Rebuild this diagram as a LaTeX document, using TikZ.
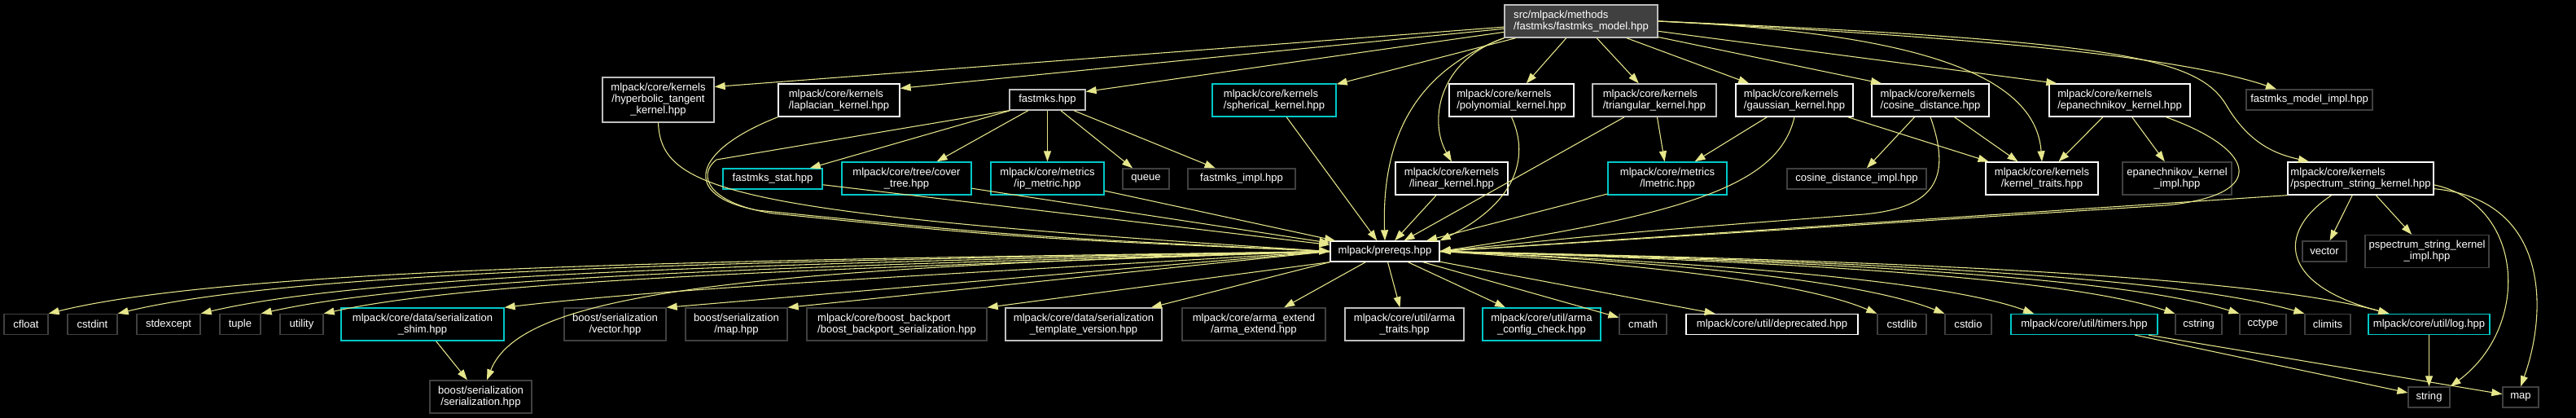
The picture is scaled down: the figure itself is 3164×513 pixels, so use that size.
\documentclass[tikz,border=0pt]{standalone}
\usepackage{fontspec}
\setmainfont{Liberation Sans}
\usetikzlibrary{arrows.meta}

\definecolor{edgecol}{RGB}{230,230,140}
\definecolor{linkcyan}{RGB}{0,200,200}
\definecolor{extgray}{RGB}{64,64,64}
\definecolor{docgray}{RGB}{190,190,190}
\definecolor{rootfill}{RGB}{64,64,64}

\begin{document}
\begin{tikzpicture}[
    x=0.75pt, y=-0.75pt,
    box/.style={rectangle, draw, line width=1pt, fill=black, text=white, inner xsep=1pt, inner ysep=0pt, minimum height=18.75pt, align=center, font=\fontsize{9.8}{10.5}\selectfont},
    docbox/.style={box, draw=white},
    greybox/.style={box, draw=docgray},
    linkbox/.style={box, draw=linkcyan},
    extbox/.style={box, draw=extgray},
    rootbox/.style={box, draw=docgray, fill=rootfill},
    twoline/.style={minimum height=30pt},
    threeline/.style={minimum height=41.25pt},
    boxw/.style={minimum width=#1*0.75pt},
    arrow/.style={-{Triangle[length=9.75pt,width=6.75pt]}, draw=edgecol, line width=0.8pt}
]
\useasboundingbox (0,0) rectangle (3164,513);
\fill[black] (0,0) rectangle (3164,513);

% Row 1: the file itself
\node[rootbox, twoline, boxw=188, align=left] (fmodel) at (1942,26) {src/mlpack/methods\\/fastmks/fastmks\_model.hpp};

% Row 2: direct includes
\node[greybox, threeline, boxw=137] (hyptan) at (808.5,122.5) {mlpack/core/kernels\\/hyperbolic\_tangent\\\_kernel.hpp};
\node[docbox, twoline, boxw=149, align=left] (laplace) at (1030.5,123) {mlpack/core/kernels\\/laplacian\_kernel.hpp};
\node[greybox, boxw=93] (fastmks) at (1286.5,122.5) {fastmks.hpp};
\node[linkbox, twoline, boxw=152, align=left] (spherical) at (1565,123) {mlpack/core/kernels\\/spherical\_kernel.hpp};
\node[docbox, twoline, boxw=153, align=left] (polynom) at (1856.5,123) {mlpack/core/kernels\\/polynomial\_kernel.hpp};
\node[greybox, twoline, boxw=152, align=left] (triang) at (2032,123) {mlpack/core/kernels\\/triangular\_kernel.hpp};
\node[docbox, twoline, boxw=144, align=left] (gauss) at (2204,123) {mlpack/core/kernels\\/gaussian\_kernel.hpp};
\node[docbox, twoline, boxw=144, align=left] (cosdist) at (2371,123) {mlpack/core/kernels\\/cosine\_distance.hpp};
\node[docbox, twoline, boxw=173, align=left] (epan) at (2603.5,123) {mlpack/core/kernels\\/epanechnikov\_kernel.hpp};
\node[extbox, boxw=155] (modelimpl) at (2836.5,122.5) {fastmks\_model\_impl.hpp};

% Row 3
\node[linkbox, boxw=122] (fstat) at (949,219.5) {fastmks\_stat.hpp};
\node[linkbox, twoline, boxw=159] (covtree) at (1113.5,219) {mlpack/core/tree/cover\\\_tree.hpp};
\node[linkbox, twoline, boxw=139] (ipmetric) at (1286.5,219) {mlpack/core/metrics\\/ip\_metric.hpp};
\node[extbox, boxw=57] (queue) at (1407.5,219.5) {queue};
\node[extbox, boxw=132] (fimpl) at (1525,219.5) {fastmks\_impl.hpp};
\node[docbox, twoline, boxw=138] (linear) at (1783,219) {mlpack/core/kernels\\/linear\_kernel.hpp};
\node[linkbox, twoline, boxw=146] (lmetric) at (2048,219) {mlpack/core/metrics\\/lmetric.hpp};
\node[extbox, boxw=171] (cosimpl) at (2280.5,219.5) {cosine\_distance\_impl.hpp};
\node[docbox, twoline, boxw=138] (ktraits) at (2508,219) {mlpack/core/kernels\\/kernel\_traits.hpp};
\node[extbox, twoline, boxw=134] (epanimpl) at (2674,219) {epanechnikov\_kernel\\\_impl.hpp};
\node[docbox, twoline, boxw=179, align=left] (pspec) at (2899.5,219) {mlpack/core/kernels\\/pspectrum\_string\_kernel.hpp};

% Row 4
\node[docbox, boxw=134] (prereqs) at (1701,308.5) {mlpack/prereqs.hpp};
\node[extbox, boxw=54] (vectorh) at (2855,308.5) {vector};
\node[extbox, twoline, boxw=152] (pspecimpl) at (2981,308.5) {pspectrum\_string\_kernel\\\_impl.hpp};

% Row 5
\node[extbox, boxw=54] (cfloat) at (32,398) {cfloat};
\node[extbox, boxw=61] (cstdint) at (113.5,398) {cstdint};
\node[extbox, boxw=78] (stdexcept) at (207,398) {stdexcept};
\node[extbox, boxw=50] (tuple) at (295,398) {tuple};
\node[extbox, boxw=53] (utility) at (370.5,398) {utility};
\node[linkbox, twoline, boxw=200] (sershim) at (519,398) {mlpack/core/data/serialization\\\_shim.hpp};
\node[extbox, twoline, boxw=125] (bvector) at (755.5,398) {boost/serialization\\/vector.hpp};
\node[extbox, twoline, boxw=125] (bmap) at (904.5,398) {boost/serialization\\/map.hpp};
\node[extbox, twoline, boxw=221, align=left] (backport) at (1101.5,398) {mlpack/core/boost\_backport\\/boost\_backport\_serialization.hpp};
\node[greybox, twoline, boxw=192] (sertmpl) at (1331,398) {mlpack/core/data/serialization\\\_template\_version.hpp};
\node[extbox, twoline, boxw=176] (armaext) at (1540,398) {mlpack/core/arma\_extend\\/arma\_extend.hpp};
\node[greybox, twoline, boxw=146] (armatraits) at (1725,398) {mlpack/core/util/arma\\\_traits.hpp};
\node[linkbox, twoline, boxw=145] (armacfg) at (1893.5,398) {mlpack/core/util/arma\\\_config\_check.hpp};
\node[extbox, boxw=58] (cmath) at (2018,398) {cmath};
\node[docbox, boxw=211] (deprec) at (2176.5,398) {mlpack/core/util/deprecated.hpp};
\node[extbox, boxw=60] (cstdlib) at (2336,398) {cstdlib};
\node[extbox, boxw=57] (cstdio) at (2417.5,398) {cstdio};
\node[linkbox, boxw=180] (timers) at (2560,398) {mlpack/core/util/timers.hpp};
\node[extbox, boxw=57] (cstring) at (2700.5,398) {cstring};
\node[extbox, boxw=57] (cctype) at (2779.5,398) {cctype};
\node[extbox, boxw=56] (climits) at (2859,398) {climits};
\node[linkbox, boxw=149] (logh) at (2983.5,398) {mlpack/core/util/log.hpp};

% Row 6
\node[extbox, twoline, boxw=125] (bser) at (590.5,487) {boost/serialization\\/serialization.hpp};
\node[extbox, boxw=51] (stringh) at (2983.5,487.5) {string};
\node[extbox, boxw=44] (maph) at (3096,487.5) {map};

% Arrows from the file itself
\draw[arrow] (fmodel) -- (hyptan.13);
\draw[arrow] (fmodel) -- (laplace.11);
\draw[arrow] (fmodel) -- (fastmks.12);
\draw[arrow] (fmodel) -- (spherical);
\draw[arrow] (fmodel) -- (polynom);
\draw[arrow] (fmodel) -- (triang);
\draw[arrow] (fmodel) -- (gauss);
\draw[arrow] (fmodel) -- (cosdist.161);
\draw[arrow] (fmodel) -- (epan.165);
\draw[arrow] (fmodel.east) .. controls (2300,40) and (2650,60) .. (modelimpl.162);
\draw[arrow] (fmodel.south west) .. controls (1765,75) and (1755,150) .. (linear.north);
\draw[arrow] (fmodel.south west) .. controls (1730,90) and (1697,180) .. (prereqs.north);
\draw[arrow] (fmodel.east) .. controls (2350,40) and (2500,90) .. (ktraits.north);
\draw[arrow] (fmodel.east) .. controls (2600,50) and (2700,70) .. (2735,130) .. controls (2765,180) and (2800,190) .. (pspec.162);

% Arrows Row 2
\draw[arrow] (hyptan.south) .. controls (812,235) and (900,262) .. (prereqs.west);
\draw[arrow] (laplace.south west) .. controls (850,185) and (835,240) .. (930,258) .. controls (1250,290) .. (prereqs.west);
\draw[arrow] (fastmks.south west) -- (880,196) .. controls (855,215) and (870,250) .. (950,262) .. controls (1250,292) .. (prereqs.west);
\draw[arrow] (fastmks) -- (fstat);
\draw[arrow] (fastmks) -- (covtree);
\draw[arrow] (fastmks) -- (ipmetric);
\draw[arrow] (fastmks) -- (queue);
\draw[arrow] (fastmks) -- (fimpl);
\draw[arrow] (spherical) -- (prereqs);
\draw[arrow] (polynom.south) .. controls (1880,195) and (1860,250) .. (prereqs.north east);
\draw[arrow] (triang) -- (lmetric);
\draw[arrow] (triang) -- (prereqs);
\draw[arrow] (gauss) -- (lmetric);
\draw[arrow] (gauss) -- (ktraits);
\draw[arrow] (gauss.south) .. controls (2185,225) and (2080,262) .. (prereqs.east);
\draw[arrow] (cosdist) -- (cosimpl);
\draw[arrow] (cosdist) -- (ktraits);
\draw[arrow] (cosdist.south) .. controls (2400,225) and (2370,255) .. (2290,263) .. controls (2000,285) .. (prereqs.east);
\draw[arrow] (epan) -- (ktraits);
\draw[arrow] (epan) -- (epanimpl);
\draw[arrow] (epan.-20) .. controls (2775,185) and (2785,240) .. (2660,252) .. controls (2300,275) .. (prereqs.east);

% Arrows Row 3
\draw[arrow] (fstat) -- (prereqs);
\draw[arrow] (covtree) -- (prereqs);
\draw[arrow] (ipmetric) -- (prereqs);
\draw[arrow] (linear) -- (prereqs);
\draw[arrow] (lmetric) -- (prereqs);
\draw[arrow] (pspec.south west) -- (prereqs.east);
\draw[arrow] (pspec) -- (vectorh);
\draw[arrow] (pspec) -- (pspecimpl);
\draw[arrow] (pspec.210) .. controls (2795,285) and (2800,350) .. (logh.165);
\draw[arrow] (pspec.-5) .. controls (3100,250) and (3110,400) .. (stringh.north east);
\draw[arrow] (pspec.-8) .. controls (3130,245) and (3130,380) .. (maph.north);

% Arrows from prereqs
\draw[arrow] (prereqs.west) .. controls (1000,318) and (300,325) .. (cfloat.north east);
\draw[arrow] (prereqs.west) .. controls (1000,320) and (380,328) .. (cstdint.north east);
\draw[arrow] (prereqs.west) .. controls (1050,322) and (470,332) .. (stdexcept.north east);
\draw[arrow] (prereqs.west) .. controls (1080,325) and (540,336) .. (tuple.north east);
\draw[arrow] (prereqs.west) .. controls (1100,328) and (600,340) .. (utility.north east);
\draw[arrow] (prereqs.west) .. controls (1300,330) and (850,350) .. (sershim.north east);
\draw[arrow] (prereqs.west) .. controls (900,330) and (640,360) .. (bser.70);
\draw[arrow] (prereqs.west) -- (bvector.north east);
\draw[arrow] (prereqs.west) -- (bmap.north east);
\draw[arrow] (prereqs.south west) -- (backport.north east);
\draw[arrow] (prereqs.south west) -- (sertmpl.14);
\draw[arrow] (prereqs) -- (armaext);
\draw[arrow] (prereqs) -- (armatraits);
\draw[arrow] (prereqs) -- (armacfg);
\draw[arrow] (prereqs) -- (cmath);
\draw[arrow] (prereqs) -- (deprec);
\draw[arrow] (prereqs.east) .. controls (1950,320) and (2200,340) .. (cstdlib.north west);
\draw[arrow] (prereqs.east) .. controls (1980,318) and (2270,338) .. (cstdio.north west);
\draw[arrow] (prereqs.east) .. controls (2000,318) and (2370,338) .. (timers.168);
\draw[arrow] (prereqs.east) .. controls (2100,318) and (2520,335) .. (cstring.north west);
\draw[arrow] (prereqs.east) .. controls (2150,318) and (2590,335) .. (cctype.north west);
\draw[arrow] (prereqs.east) .. controls (2200,318) and (2660,335) .. (climits.north west);
\draw[arrow] (prereqs.east) .. controls (2250,318) and (2750,335) .. (logh.165);

% Arrows Row 5
\draw[arrow] (sershim) -- (bser);
\draw[arrow] (timers) -- (stringh);
\draw[arrow] (timers) -- (maph);
\draw[arrow] (logh) -- (stringh);

\end{tikzpicture}
\end{document}
